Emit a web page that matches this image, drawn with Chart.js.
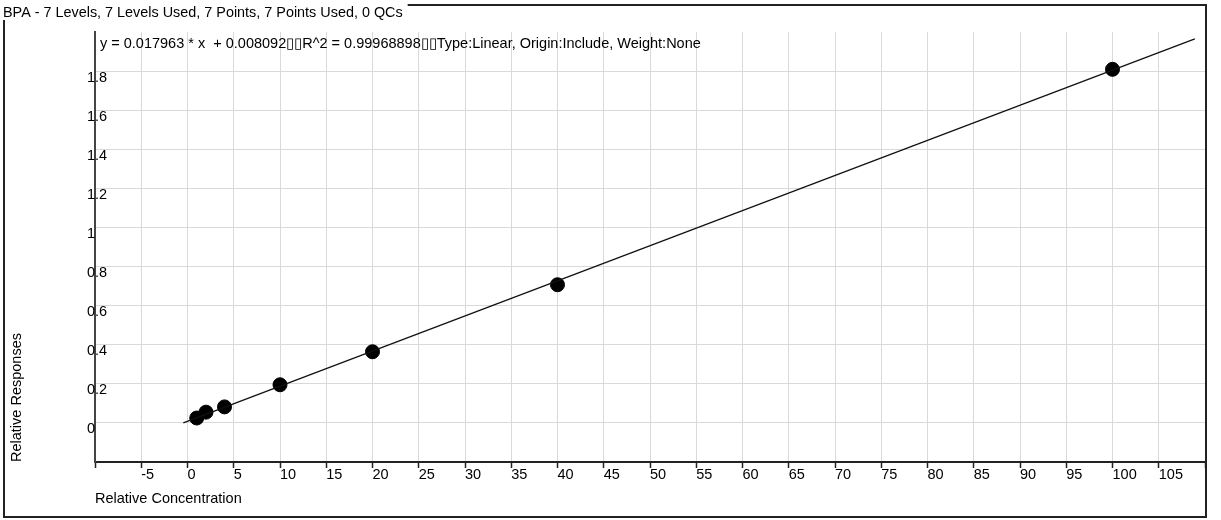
<!DOCTYPE html>
<html>
<head>
<meta charset="utf-8">
<script src="https://cdn.jsdelivr.net/npm/chart.js@4.4.1/dist/chart.umd.min.js"></script>
<style>
  html, body { margin: 0; padding: 0; background: #fff; }
  #wrap { position: relative; width: 1221px; height: 520px; }
</style>
</head>
<body>
<div id="wrap"><canvas id="calib" width="1221" height="520"></canvas></div>
<script>
// calibration levels (relative concentration) and measured responses
const concentrations = [1, 2, 4, 10, 20, 40, 100];
const responses = [0.025, 0.055, 0.082, 0.195, 0.364, 0.707, 1.809];

// fitted line as drawn, end points
const fitX = [-0.45, 108.9];
const fitY = [0.0, 1.965];

const chartTitle = 'BPA - 7 Levels, 7 Levels Used, 7 Points, 7 Points Used, 0 QCs';
const equation = 'y = 0.017963 * x  + 0.008092\u25AF\u25AFR^2 = 0.99968898\u25AF\u25AFType:Linear, Origin:Include, Weight:None';

const FONT = 'Liberation Sans, Arial, sans-serif';

const framePlugin = {
    id: 'frame',
    afterDraw(chart) {
        const ctx = chart.ctx;
        const area = chart.chartArea;
        ctx.save();
        // outer frame
        ctx.strokeStyle = '#222';
        ctx.lineWidth = 2;
        ctx.strokeRect(4, 5, 1202, 512);
        // title box, covers the frame at top left
        ctx.fillStyle = '#fff';
        ctx.font = '14.4px ' + FONT;
        const w = ctx.measureText(chartTitle).width;
        ctx.fillRect(0, 0, w + 8, 20);
        ctx.fillStyle = '#000';
        ctx.textBaseline = 'middle';
        ctx.fillText(chartTitle, 3, 13);
        // equation inside the plot
        ctx.font = '14.5px ' + FONT;
        ctx.fillText(equation, area.left + 5, 44);
        ctx.restore();
    }
};

new Chart(document.getElementById('calib'), {
    type: 'scatter',
    data: {
        datasets: [
            {
                label: 'Fit',
                type: 'line',
                data: fitX.map((x, i) => ({ x: x, y: fitY[i] })),
                borderColor: '#111',
                borderWidth: 1.3,
                pointRadius: 0,
                fill: false
            },
            {
                label: 'Points',
                data: concentrations.map((x, i) => ({ x: x, y: responses[i] })),
                backgroundColor: '#000',
                borderColor: '#000',
                pointRadius: 7,
                pointHoverRadius: 7
            }
        ]
    },
    options: {
        responsive: false,
        animation: false,
        layout: { padding: { left: 0, right: 16, top: 32, bottom: 0 } },
        plugins: {
            legend: { display: false },
            tooltip: { enabled: false }
        },
        scales: {
            x: {
                type: 'linear',
                min: -10,
                max: 110,
                afterFit: (s) => { s.height = 58; },
                border: { color: '#222', width: 2 },
                grid: {
                    color: (c) => (c.tick && (c.tick.value <= -10 || c.tick.value >= 110)) ? 'rgba(0,0,0,0)' : '#d9d9d9',
                    tickColor: '#222',
                    tickLength: 6,
                    tickWidth: 1.5
                },
                ticks: {
                    stepSize: 5,
                    align: 'start',
                    padding: -2,
                    maxRotation: 0,
                    autoSkip: false,
                    color: '#000',
                    font: { family: FONT, size: 14.5 },
                    callback: (v) => (v <= -10 || v >= 110) ? '' : String(v)
                },
                title: {
                    display: true,
                    text: 'Relative Concentration',
                    align: 'start',
                    color: '#000',
                    font: { family: FONT, size: 14.5 },
                    padding: { top: 0, bottom: 12 }
                }
            },
            y: {
                type: 'linear',
                min: -0.2,
                max: 2.0,
                afterFit: (s) => { s.width = 95; },
                border: { color: '#444', width: 2 },
                grid: {
                    color: (c) => (c.tick && (c.tick.value < -0.01 || c.tick.value > 1.99)) ? 'rgba(0,0,0,0)' : '#d9d9d9',
                    drawTicks: false
                },
                ticks: {
                    stepSize: 0.2,
                    mirror: true,
                    padding: -8,
                    labelOffset: 6.5,
                    color: '#000',
                    font: { family: FONT, size: 14.5 },
                    callback: (v) => (v < -0.01 || v > 1.99) ? '' : String(Math.round(v * 10) / 10)
                },
                title: {
                    display: true,
                    text: 'Relative Responses',
                    align: 'start',
                    color: '#000',
                    font: { family: FONT, size: 14.5 },
                    padding: { top: 8, bottom: 0 }
                }
            }
        }
    },
    plugins: [framePlugin]
});
</script>
</body>
</html>
